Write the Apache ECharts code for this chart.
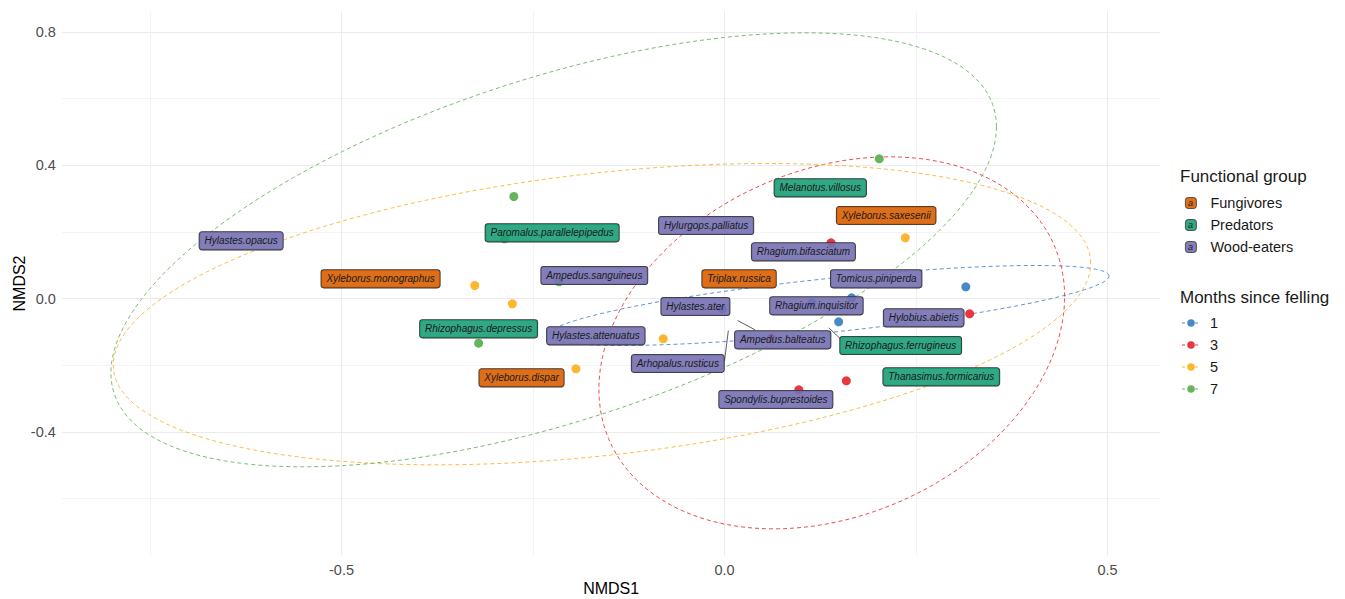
<!DOCTYPE html>
<html>
<head>
<meta charset="utf-8">
<script src="https://cdn.jsdelivr.net/npm/echarts@6/dist/echarts.min.js"></script>
<style>
  html, body { margin: 0; padding: 0; background: #fff; }
  #chart { width: 1345px; height: 599px; }
</style>
</head>
<body>
<div id="chart"></div>
<script>
// ---- NMDS site scores, one array per "months since felling" level ----
const months = ['1', '3', '5', '7'];
const sites1 = [[0.315, 0.035], [0.166, 0.002], [0.149, -0.070], [0.114, -0.013], [-0.003, -0.031]];
const sites3 = [[0.139, 0.167], [0.320, -0.046], [0.159, -0.247], [0.097, -0.274], [0.061, -0.118]];
const sites5 = [[-0.326, 0.039], [-0.277, -0.016], [-0.080, -0.121], [-0.194, -0.211], [0.236, 0.182]];
const sites7 = [[-0.275, 0.306], [0.202, 0.419], [-0.321, -0.134], [-0.287, 0.179], [-0.216, 0.050]];

// ---- dispersion ellipses per month: centre, half-extent along NMDS1/NMDS2, correlation ----
const ellipseCentre = [[0.136, -0.021], [0.140, -0.133], [-0.160, -0.047], [-0.223, 0.146]];
const ellipseRadius = [[0.366, 0.120], [0.304, 0.558], [0.638, 0.452], [0.578, 0.651]];
const ellipseCorr = [0.736, 0.249, 0.338, 0.567];

// ---- species scores ----
const speciesNames = [
  'Hylastes.opacus', 'Paromalus.parallelepipedus', 'Xyleborus.monographus', 'Ampedus.sanguineus',
  'Rhizophagus.depressus', 'Hylastes.attenuatus', 'Xyleborus.dispar', 'Hylastes.ater',
  'Ampedus.balteatus', 'Arhopalus.rusticus', 'Spondylis.buprestoides', 'Melanotus.villosus',
  'Xyleborus.saxesenii', 'Hylurgops.palliatus', 'Rhagium.bifasciatum', 'Triplax.russica',
  'Tomicus.piniperda', 'Rhagium.inquisitor', 'Hylobius.abietis', 'Rhizophagus.ferrugineus',
  'Thanasimus.formicarius'
];
const speciesGroup = [
  'Wood-eaters', 'Predators', 'Fungivores', 'Wood-eaters',
  'Predators', 'Wood-eaters', 'Fungivores', 'Wood-eaters',
  'Wood-eaters', 'Wood-eaters', 'Wood-eaters', 'Predators',
  'Fungivores', 'Wood-eaters', 'Wood-eaters', 'Fungivores',
  'Wood-eaters', 'Wood-eaters', 'Wood-eaters', 'Predators',
  'Predators'
];
const speciesNMDS1 = [
  -0.631, -0.225, -0.449, -0.170,
  -0.321, -0.168, -0.265, -0.038,
  0.076, -0.061, 0.067, 0.125,
  0.211, -0.024, 0.103, 0.019,
  0.198, 0.120, 0.260, 0.230,
  0.283
];
const speciesNMDS2 = [
  0.173, 0.197, 0.059, 0.069,
  -0.091, -0.112, -0.238, -0.024,
  -0.124, -0.195, -0.303, 0.332,
  0.249, 0.219, 0.140, 0.059,
  0.059, -0.022, -0.058, -0.141,
  -0.235
];

// leader lines from a species score to its displaced label
const leaderSpecies = ['Ampedus.balteatus', 'Arhopalus.rusticus', 'Rhizophagus.ferrugineus'];
const leaderFrom = [[0.017, -0.066], [0.005, -0.096], [0.136, -0.088]];
const leaderTo = [[0.040, -0.094], [0.000, -0.187], [0.151, -0.120]];

// ---- axes ----
const xTicks = [-0.75, -0.5, -0.25, 0, 0.25, 0.5];
const xTickLabels = [-0.5, 0, 0.5];
const yTicks = [-0.6, -0.4, -0.2, 0, 0.2, 0.4, 0.6, 0.8];
const yTickLabels = [-0.4, 0, 0.4, 0.8];
const groups = ['Fungivores', 'Predators', 'Wood-eaters'];

// ---- styling ----
const FONT = "'Liberation Sans', Arial, Helvetica, sans-serif";
const monthColors = ['#4A89C8', '#E8383D', '#FCB62F', '#66B55E'];
const groupColors = ['rgba(217,95,2,0.9)', 'rgba(27,158,119,0.9)', 'rgba(117,112,179,0.9)'];
const siteSets = [sites1, sites3, sites5, sites7];

const pointSeries = months.map((m, k) => ({
  type: 'scatter',
  name: m,
  data: siteSets[k],
  symbol: 'circle',
  symbolSize: 9,
  itemStyle: { color: monthColors[k], opacity: 1 },
  z: 3,
  silent: true
}));

const ellipseSeries = months.map((m, k) => ({
  type: 'custom',
  name: m,
  data: [[ellipseCentre[k][0], ellipseCentre[k][1], ellipseRadius[k][0], ellipseRadius[k][1], ellipseCorr[k]]],
  itemStyle: { color: monthColors[k] },
  z: 2,
  silent: true,
  renderItem(params, api) {
    const cx = api.value(0), cy = api.value(1);
    const rx = api.value(2), ry = api.value(3), r = api.value(4);
    const s = Math.sqrt(1 - r * r);
    const pts = [];
    const n = 240;
    for (let i = 0; i <= n; i++) {
      const t = (i / n) * Math.PI * 2;
      pts.push(api.coord([cx + rx * Math.cos(t), cy + ry * (r * Math.cos(t) + s * Math.sin(t))]));
    }
    return {
      type: 'polyline',
      shape: { points: pts },
      style: { fill: 'none', stroke: monthColors[k], lineWidth: 0.9, lineDash: [4, 3] }
    };
  }
}));

const leaderSeries = {
  type: 'custom',
  name: 'leaders',
  data: leaderSpecies.map((s, i) => [leaderFrom[i][0], leaderFrom[i][1], leaderTo[i][0], leaderTo[i][1]]),
  z: 4,
  silent: true,
  renderItem(params, api) {
    const a = api.coord([api.value(0), api.value(1)]);
    const b = api.coord([api.value(2), api.value(3)]);
    return {
      type: 'line',
      shape: { x1: a[0], y1: a[1], x2: b[0], y2: b[1] },
      style: { stroke: '#333333', lineWidth: 0.8 }
    };
  }
};

const labelSeries = groups.map((g, k) => {
  const idx = speciesGroup.map((sg, i) => (sg === g ? i : -1)).filter(i => i >= 0);
  return {
    type: 'custom',
    name: g,
    itemStyle: { color: groupColors[k] },
    data: idx.map(i => ({ name: speciesNames[i], value: [speciesNMDS1[i], speciesNMDS2[i]] })),
    z: 5,
    silent: true,
    renderItem(params, api) {
      const p = api.coord([api.value(0), api.value(1)]);
      return {
        type: 'text',
        x: p[0],
        y: p[1],
        style: {
          text: speciesNames[idx[params.dataIndex]],
          fontFamily: FONT,
          fontSize: 10,
          fontStyle: 'italic',
          lineHeight: 11,
          fill: '#1a1a1a',
          align: 'center',
          verticalAlign: 'middle',
          backgroundColor: groupColors[k],
          borderColor: '#333333',
          borderWidth: 0.8,
          borderRadius: 2.5,
          padding: [3.3, 5, 3.2, 5]
        }
      };
    }
  };
});

const monthIcon = 'path://M0,3.25h3v1h-3z M5.25,3.75a3.75,3.75 0 1,0 7.5,0a3.75,3.75 0 1,0 -7.5,0z M13,3.25h3v1h-3z';

const option = {
  animation: false,
  backgroundColor: '#ffffff',
  grid: { left: 62.3, right: 185, top: 11.5, bottom: 43.5, containLabel: false, outerBoundsMode: 'none' },
  xAxis: {
    type: 'value',
    min: -0.8645,
    max: 0.5685,
    name: 'NMDS1',
    nameLocation: 'middle',
    nameGap: 24.5,
    nameMoveOverlap: false,
    nameTextStyle: { fontFamily: FONT, fontSize: 16, color: '#000000' },
    axisLine: { show: false },
    axisTick: { show: false, customValues: xTicks },
    axisLabel: {
      customValues: xTickLabels,
      margin: 7,
      fontFamily: FONT,
      fontSize: 14.5,
      color: '#4d4d4d',
      formatter: v => v.toFixed(1)
    },
    splitLine: { show: true, lineStyle: { color: ['#f3f3f3', '#ebebeb'], width: 1 } }
  },
  yAxis: {
    type: 'value',
    min: -0.771,
    max: 0.861,
    name: 'NMDS2',
    nameLocation: 'middle',
    nameGap: 35,
    nameMoveOverlap: false,
    nameTextStyle: { fontFamily: FONT, fontSize: 16, color: '#000000' },
    axisLine: { show: false },
    axisTick: { show: false, customValues: yTicks },
    axisLabel: {
      customValues: yTickLabels,
      margin: 6.5,
      fontFamily: FONT,
      fontSize: 14.5,
      color: '#4d4d4d',
      formatter: v => v.toFixed(1)
    },
    splitLine: { show: true, lineStyle: { color: ['#f3f3f3', '#ebebeb'], width: 1 } }
  },
  legend: [
    {
      data: groups,
      orient: 'vertical',
      left: 1185,
      top: 192,
      padding: 0,
      itemGap: 0,
      itemWidth: 11,
      itemHeight: 11,
      icon: 'roundRect',
      selectedMode: false,
      itemStyle: { borderColor: '#333333', borderWidth: 0.8 },
      textStyle: { fontFamily: FONT, fontSize: 14.5, lineHeight: 22, color: '#1a1a1a', padding: [0, 0, 0, 9] }
    },
    {
      data: months,
      orient: 'vertical',
      left: 1182,
      top: 312,
      padding: 0,
      itemGap: 0,
      itemWidth: 16,
      itemHeight: 7.5,
      icon: monthIcon,
      selectedMode: false,
      textStyle: { fontFamily: FONT, fontSize: 14.5, lineHeight: 22, color: '#1a1a1a', padding: [0, 0, 0, 7] }
    }
  ],
  graphic: [
    { type: 'text', x: 1180, y: 176, z: 10, style: { text: 'Functional group', fontFamily: FONT, fontSize: 17, fill: '#1a1a1a', align: 'left', verticalAlign: 'middle' } },
    { type: 'text', x: 1180, y: 297, z: 10, style: { text: 'Months since felling', fontFamily: FONT, fontSize: 17, fill: '#1a1a1a', align: 'left', verticalAlign: 'middle' } },
    { type: 'text', x: 1190.5, y: 203, z: 10, style: { text: 'a', fontFamily: FONT, fontSize: 9, fontStyle: 'italic', fill: '#1a1a1a', align: 'center', verticalAlign: 'middle' } },
    { type: 'text', x: 1190.5, y: 225, z: 10, style: { text: 'a', fontFamily: FONT, fontSize: 9, fontStyle: 'italic', fill: '#1a1a1a', align: 'center', verticalAlign: 'middle' } },
    { type: 'text', x: 1190.5, y: 247, z: 10, style: { text: 'a', fontFamily: FONT, fontSize: 9, fontStyle: 'italic', fill: '#1a1a1a', align: 'center', verticalAlign: 'middle' } }
  ],
  series: [].concat(pointSeries, ellipseSeries, [leaderSeries], labelSeries)
};

const chart = echarts.init(document.getElementById('chart'), null, { renderer: 'svg' });
chart.setOption(option);
</script>
</body>
</html>
